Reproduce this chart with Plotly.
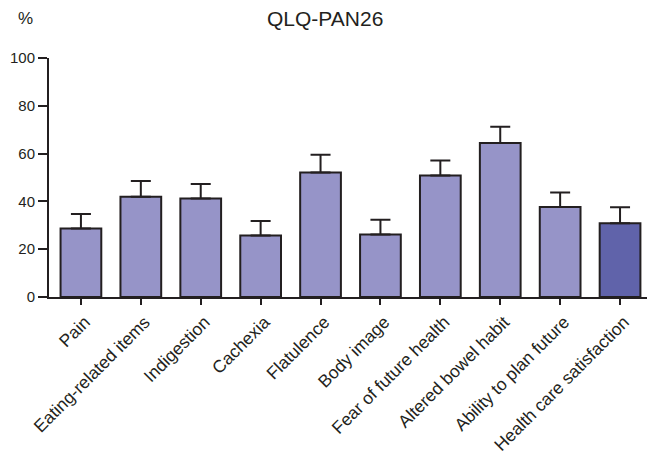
import plotly.graph_objects as go

categories = ["Pain", "Eating-related items", "Indigestion", "Cachexia", "Flatulence",
              "Body image", "Fear of future health", "Altered bowel habit",
              "Ability to plan future", "Health care satisfaction"]
means = [28.7, 41.9, 41.2, 25.7, 52.1, 26.2, 50.8, 64.4, 37.7, 30.9]
upper_err = [6.0, 6.6, 6.1, 6.1, 7.4, 6.1, 6.3, 6.8, 6.0, 6.7]
y_ticks = [0, 20, 40, 60, 80, 100]

light = "#9694C8"
dark = "#6063AA"
colors = [light] * (len(categories) - 1) + [dark]
ink = "#231F20"
font = "Liberation Sans, Arial, Helvetica, sans-serif"

W, H = 647, 455
ML, MR, MT, MB = 49, 0, 58, 158
plot_w = W - ML - MR
plot_h = H - MT - MB


def px_to_paper(px, py):
    """Convert page pixel position (from top-left) to paper coordinates."""
    return (px - ML) / plot_w, (H - py - MB) / plot_h


fig = go.Figure(go.Bar(
    x=list(range(len(categories))),
    y=means,
    width=0.68,
    marker=dict(color=colors, line=dict(color=ink, width=2)),
    error_y=dict(type="data", symmetric=False, array=upper_err,
                 arrayminus=[0] * len(means), color=ink, thickness=2, width=10),
))

tx, ty = px_to_paper(325, 19)
px_, py_ = px_to_paper(25, 18)

fig.update_layout(
    width=W, height=H,
    margin=dict(l=ML, r=MR, t=MT, b=MB, autoexpand=False),
    plot_bgcolor="white", paper_bgcolor="white",
    showlegend=False,
    font=dict(family=font, size=15, color=ink),
    xaxis=dict(
        range=[-0.533, 9.45], automargin=False,
        tickmode="array", tickvals=list(range(len(categories))), ticktext=categories,
        tickangle=-45, ticks="outside", ticklen=6, tickwidth=2, tickcolor=ink,
        ticklabelshift=4,
        showline=True, linecolor=ink, linewidth=2, showgrid=False, zeroline=False,
        tickfont=dict(size=17.5),
    ),
    yaxis=dict(
        range=[0, 100], tickvals=y_ticks, automargin=False,
        ticks="outside", ticklen=9, tickwidth=2, tickcolor=ink,
        showline=True, linecolor=ink, linewidth=2, showgrid=False, zeroline=False,
        tickfont=dict(size=15),
    ),
    annotations=[
        dict(text="QLQ-PAN26", x=tx, y=ty, xref="paper", yref="paper",
             xanchor="center", yanchor="middle", showarrow=False, font=dict(size=21)),
        dict(text="%", x=px_, y=py_, xref="paper", yref="paper",
             xanchor="center", yanchor="middle", showarrow=False, font=dict(size=17)),
    ],
)

fig.write_html("out.html")
